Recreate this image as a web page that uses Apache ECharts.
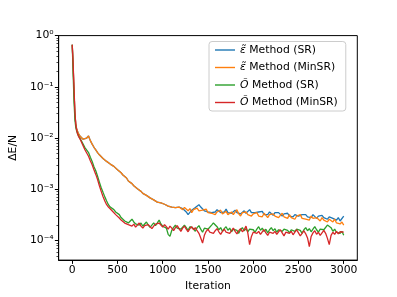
<!DOCTYPE html>
<html><head><meta charset="utf-8">
<script src="https://cdn.jsdelivr.net/npm/echarts@6/dist/echarts.min.js"></script>
<style>html,body{margin:0;padding:0;background:#fff}#c{width:397px;height:297px}</style>
</head><body><div id="c"></div>
<script>
const iterations = [0,10,20,30,40,50,60,70,80,90,100,
120,140,160,180,200,220,240,260,280,300,
320,340,360,380,400,420,440,460,480,500,
520,540,560,580,600,620,640,660,680,700,
720,740,760,780,800,820,840,860,880,900,
920,940,960,980,1000,1020,1040,1060,1080,1100,
1120,1140,1160,1180,1200,1220,1240,1260,1280,1300,
1320,1340,1360,1380,1400,1420,1440,1460,1480,1500,
1520,1540,1560,1580,1600,1620,1640,1660,1680,1700,
1720,1740,1760,1780,1800,1820,1840,1860,1880,1900,
1920,1940,1960,1980,2000,2020,2040,2060,2080,2100,
2120,2140,2160,2180,2200,2220,2240,2260,2280,2300,
2320,2340,2360,2380,2400,2420,2440,2460,2480,2500,
2520,2540,2560,2580,2600,2620,2640,2660,2680,2700,
2720,2740,2760,2780,2800,2820,2840,2860,2880,2900,
2920,2940,2960,2980,3000];

const epsSR = [0.66,0.25,0.079,0.028,0.018,0.0148,0.0132,0.012,0.0112,0.0107,0.0102,
0.0095,0.0093,0.0100,0.011,0.0089,0.0076,0.0066,0.0059,0.0052,0.0047,
0.0043,0.0040,0.0037,0.0035,0.0033,0.0031,0.0030,0.0028,0.0026,0.0024,
0.0023,0.0021,0.0019,0.0018,0.00166,0.00145,0.00148,0.00129,0.00117,0.0011,
0.00102,0.00095,0.00091,0.00083,0.00079,0.00076,0.00072,0.00068,0.00066,0.00062,
0.0006,0.00056,0.00059,0.00054,0.0005,0.00051,0.00048,0.00047,0.00049,0.00045,
0.00046,0.00044,0.00043,0.00045,0.00042,
0.00042,0.0004,0.00036,0.00032,0.00035,0.00039,0.00041,0.00044,0.00047,0.0005,
0.00045,0.00042,0.00038,0.0004,0.00036,0.00039,0.00035,0.00038,0.00036,0.0004,
0.00037,0.00035,0.00038,0.00036,0.00041,0.00035,0.00037,0.00034,0.00036,0.00039,
0.00035,0.00037,0.00033,0.00036,0.00038,0.00034,0.00036,0.0004,0.00035,0.00032,
0.00035,0.00033,0.00036,0.00034,0.00037,0.00032,0.00035,0.00032,0.00036,0.00034,
0.00031,0.00035,0.00032,0.00035,0.00032,0.0003,0.00033,0.00031,0.00034,0.0003,
0.00032,0.00029,0.00032,0.00034,0.0003,0.00028,0.00032,0.0003,0.00032,0.00029,
0.00031,0.00028,0.00032,0.0003,0.00027,0.0003,0.00028,0.00031,0.00028,0.0003,
0.00026,0.00029,0.0003,0.00027,0.00028,0.00025,0.00028,0.00024,0.00026,0.0003];

const epsMinSR = [0.66,0.25,0.079,0.028,0.018,0.0148,0.0132,0.012,0.0112,0.0107,0.0102,
0.0095,0.0093,0.0100,0.011,0.0089,0.0076,0.0066,0.0059,0.0052,0.0047,
0.0043,0.0040,0.0037,0.0035,0.0033,0.0031,0.0030,0.0028,0.0026,0.0024,
0.0023,0.0021,0.0019,0.0018,0.00166,0.00145,0.00148,0.00129,0.00117,0.0011,
0.00102,0.00095,0.00091,0.00083,0.00079,0.00076,0.00072,0.00068,0.00066,0.00062,
0.0006,0.00056,0.00059,0.00054,0.0005,0.00051,0.00048,0.00047,0.00049,0.00045,
0.00046,0.00044,0.00043,0.00045,0.00042,
0.0004,0.00044,0.00041,0.00038,0.00042,0.00035,0.0004,0.00037,0.00043,0.00038,
0.00035,0.00039,0.00036,0.00041,0.00035,0.00038,0.00034,0.00037,0.00032,0.00036,
0.00035,0.00039,0.00033,0.00035,0.00037,0.00032,0.00035,0.00036,0.00032,0.00035,
0.0004,0.00033,0.0003,0.00035,0.00032,0.00036,0.00032,0.00034,0.0003,0.00033,
0.00031,0.00035,0.0003,0.00032,0.00029,0.00034,0.00031,0.00028,0.00032,0.0003,
0.00033,0.0003,0.00032,0.00028,0.00031,0.00034,0.00029,0.0003,0.00027,0.00032,
0.00028,0.0003,0.00026,0.0003,0.00028,0.00032,0.00027,0.00029,0.00026,0.00028,
0.00025,0.0003,0.00027,0.00025,0.00028,0.00026,0.00024,0.00028,0.00025,0.00027,
0.00023,0.00026,0.00025,0.00023,0.00026,0.00022,0.00024,0.00021,0.00023,0.0002];

const oSR = [0.66,0.178,0.05,0.0224,0.0158,0.0135,0.012,0.011,0.0102,0.0095,0.0089,
0.0076,0.0065,0.006,0.0052,0.0042,0.0035,0.00275,0.0023,0.0018,0.00138,
0.00107,0.00087,0.00071,0.00059,0.0005,0.00045,0.00042,0.0004,0.00036,0.00034,
0.00032,0.00028,0.00026,0.00024,0.00025,0.00022,0.00024,0.00026,0.00023,0.00021,
0.00022,0.0002,0.00022,0.00019,0.00021,0.00023,0.0002,0.00018,0.0002,0.00022,
0.000195,0.00022,0.00025,0.00021,0.00019,0.0002,0.000174,0.000132,0.00012,0.000158,
0.00018,0.0002,0.000174,0.00019,0.000166,0.00018,0.0002,0.000178,0.000158,0.000186,
0.0002,0.00017,0.000151,0.000178,0.000195,0.000166,0.000145,0.000174,0.00019,0.000166,
0.00018,0.0002,0.00022,0.00021,0.000186,0.000162,0.000178,0.000151,0.00017,0.000186,
0.000158,0.000174,0.000148,0.000166,0.00018,0.000158,0.000138,0.000162,0.000178,0.000155,
0.00017,0.000148,0.000166,0.00018,0.000162,0.000145,0.000166,0.000186,0.000158,0.000174,
0.000151,0.000166,0.000141,0.000162,0.000178,0.000155,0.00017,0.000145,0.000162,0.000174,
0.000151,0.000166,0.00018,0.000158,0.000141,0.000162,0.000174,0.000151,0.000166,0.00018,
0.000158,0.000138,0.000162,0.000178,0.000155,0.00017,0.000148,0.000166,0.000186,0.000162,
0.000145,0.000166,0.00018,0.000162,0.000174,0.0002,0.00021,0.000178,0.000151,0.000166,
0.000145,0.000158,0.000138,0.000151,0.000126];

const oMinSR = [0.66,0.28,0.089,0.0316,0.0178,0.0138,0.012,0.0107,0.01,0.0093,0.0085,
0.0071,0.0059,0.0051,0.0044,0.0036,0.003,0.0024,0.00195,0.00155,0.00117,
0.00091,0.00072,0.00059,0.0005,0.00045,0.00042,0.00038,0.00035,0.00032,0.0003,
0.000275,0.00025,0.000234,0.000219,0.000229,0.000204,0.000214,0.000191,0.000209,0.000182,
0.0002,0.000219,0.000191,0.000174,0.000195,0.000182,0.000204,0.000186,0.00017,0.000191,
0.000209,0.000195,0.000219,0.0002,0.000182,0.000204,0.000186,0.000166,0.000191,0.000174,
0.000155,0.000178,0.000195,0.00017,0.000151,0.000174,0.000191,0.000166,0.000148,0.00017,
0.000186,0.000162,0.000178,0.000155,0.000138,0.000112,0.000089,0.000126,0.000151,0.000166,
0.000145,0.000158,0.000138,0.000155,0.00017,0.000148,0.000132,0.000151,0.000166,0.000145,
0.000158,0.000138,0.000155,0.000174,0.000151,0.000135,0.000155,0.00017,0.000148,0.000162,
0.000191,0.000141,0.000083,0.00012,0.000145,0.000158,0.000138,0.000151,0.000132,0.000148,
0.000162,0.000141,0.000126,0.000145,0.000158,0.000138,0.000151,0.000132,0.000148,0.000162,
0.000141,0.000123,0.000145,0.000158,0.000138,0.000151,0.000129,0.000145,0.000162,0.000141,
0.000123,0.000138,0.000155,0.000135,0.000112,0.000076,0.00012,0.000141,0.000155,0.000132,
0.000145,0.000126,0.000141,0.000158,0.000138,0.00011,0.000083,0.000126,0.000145,0.000132,
0.000151,0.000135,0.000148,0.000138,0.000145];

const seriesNames = ['ε̃ Method (SR)', 'ε̃ Method (MinSR)', 'Õ Method (SR)', 'Õ Method (MinSR)'];
const seriesValues = [epsSR, epsMinSR, oSR, oMinSR];
const colors = ['#1f77b4', '#ff7f0e', '#2ca02c', '#d62728'];
const xTicks = [0, 500, 1000, 1500, 2000, 2500, 3000];
const yTicks = [1e-4, 1e-3, 1e-2, 1e-1, 1];
const yMinorTicks = [5e-5,6e-5,7e-5,8e-5,9e-5,
  2e-4,3e-4,4e-4,5e-4,6e-4,7e-4,8e-4,9e-4,
  2e-3,3e-3,4e-3,5e-3,6e-3,7e-3,8e-3,9e-3,
  0.02,0.03,0.04,0.05,0.06,0.07,0.08,0.09,
  0.2,0.3,0.4,0.5,0.6,0.7,0.8,0.9];

const FONT = 'DejaVu Sans';
const FS = 10.8;
const sup = {'0':'⁰','1':'¹','2':'²','3':'³','4':'⁴','5':'⁵','6':'⁶','7':'⁷','8':'⁸','9':'⁹','-':'⁻'};
function expLabel(v) {
  const e = Math.round(Math.log10(v));
  return '10' + String(e).split('').map(c => sup[c]).join('');
}

const chart = echarts.init(document.getElementById('c'), null, {renderer: 'canvas'});
chart.setOption({
  animation: false,
  backgroundColor: '#fff',
  grid: {left: 49.6, right: 39.7, top: 35.6, bottom: 32.7, show: true, borderColor: '#000', borderWidth: 1, containLabel: false},
  legend: {
    orient: 'vertical', left: 209, top: 41.5,
    backgroundColor: 'rgba(255,255,255,0.8)', borderColor: '#cccccc', borderWidth: 1, borderRadius: 3,
    padding: [3, 8, 3, 6], itemGap: 6.5, itemWidth: 20, itemHeight: 12,
    icon: 'path://M0,0 L20,0 L20,1.4 L0,1.4 Z',
    data: seriesNames.map((n, i) => ({name: n, itemStyle: {color: colors[i]}})),
    formatter: n => n.replace(/^(\S+)/, '{i|$1}'),
    textStyle: {fontFamily: FONT, fontSize: FS, color: '#000', rich: {i: {fontFamily: FONT, fontSize: FS, fontStyle: 'italic', color: '#000'}}}
  },
  xAxis: {
    type: 'value', min: -150, max: 3150,
    name: 'Iteration', nameLocation: 'middle', nameGap: 15,
    nameTextStyle: {fontFamily: FONT, fontSize: FS, color: '#000'},
    axisLine: {onZero: false, lineStyle: {color: '#000', width: 1}},
    axisTick: {show: true, length: 3.8, customValues: xTicks, lineStyle: {color: '#000', width: 1}},
    axisLabel: {customValues: xTicks, formatter: v => String(v), fontFamily: FONT, fontSize: FS, color: '#000', margin: 5},
    splitLine: {show: false}
  },
  yAxis: [{
    type: 'log', logBase: 10, min: 4.14e-5, max: 1,
    name: 'ΔE/N', nameLocation: 'middle', nameGap: 31, nameRotate: 90,
    nameTextStyle: {fontFamily: FONT, fontSize: FS, color: '#000'},
    axisLine: {show: true, onZero: false, lineStyle: {color: '#000', width: 1}},
    axisTick: {show: true, length: 3.8, customValues: yTicks, lineStyle: {color: '#000', width: 1}},
    axisLabel: {customValues: yTicks, formatter: expLabel, fontFamily: FONT, fontSize: FS, color: '#000', margin: 5},
    splitLine: {show: false}
  }, {
    type: 'log', logBase: 10, min: 4.14e-5, max: 1, position: 'left',
    axisLine: {show: false, onZero: false},
    axisTick: {show: true, length: 2.2, customValues: yMinorTicks, lineStyle: {color: '#000', width: 0.7}},
    axisLabel: {show: false},
    splitLine: {show: false}
  }],
  series: seriesNames.map((n, i) => ({
    name: n, type: 'line', yAxisIndex: 0, showSymbol: false, symbol: 'none',
    color: colors[i],
    lineStyle: {color: colors[i], width: 1.3},
    data: iterations.map((it, k) => [it, seriesValues[i][k]])
  }))
});
</script>
</body></html>
